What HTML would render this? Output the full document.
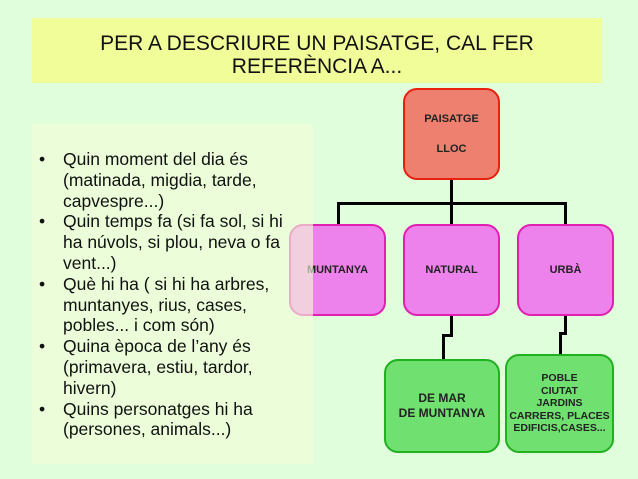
<!DOCTYPE html>
<html><head><meta charset="utf-8"><style>
body{margin:0;width:638px;height:479px;background:#e0fddc;position:relative;overflow:hidden;font-family:"Liberation Sans",sans-serif}
.t{position:absolute;left:32px;top:18px;width:570px;height:65px;background:#f0fd98;text-align:center;font-size:21px;line-height:23px;color:#111;padding-top:14px;box-sizing:border-box}
.b{position:absolute;box-sizing:border-box;border-radius:14px;border:2px solid;display:flex;align-items:center;justify-content:center;text-align:center;font-weight:bold;font-size:11px;color:#222}
.p{background:#ee82ec;border-color:#e020b0}
.g{background:#70e070;border-color:#20b020;font-size:11.5px;line-height:13px}
.panel{position:absolute;left:32px;top:124px;width:281px;height:340px;background:rgba(244,255,214,0.62)}
ul{position:absolute;left:32px;top:149px;margin:0;padding:0 0 0 31px;width:235px;font-size:17.5px;line-height:20.8px;color:#111;list-style:none}
li{position:relative}
li:before{content:"•";position:absolute;left:-24px}
.l{position:absolute;background:#000}
</style></head><body>
<div class="t">PER A DESCRIURE UN PAISATGE, CAL FER<br>REFERÈNCIA A...</div>
<div class="l" style="left:450px;top:180px;width:3px;height:25px"></div>
<div class="l" style="left:337px;top:202px;width:230px;height:3px"></div>
<div class="l" style="left:337px;top:202px;width:3px;height:23px"></div>
<div class="l" style="left:450px;top:202px;width:3px;height:23px"></div>
<div class="l" style="left:564px;top:202px;width:3px;height:23px"></div>
<div class="l" style="left:450px;top:316px;width:3px;height:20px"></div>
<div class="l" style="left:442px;top:334px;width:11px;height:3px"></div>
<div class="l" style="left:442px;top:334px;width:3px;height:26px"></div>
<div class="l" style="left:564px;top:316px;width:3px;height:18px"></div>
<div class="l" style="left:559px;top:332px;width:8px;height:3px"></div>
<div class="l" style="left:559px;top:332px;width:3px;height:23px"></div>
<div class="b" style="left:403px;top:88px;width:97px;height:92px;background:#ee8070;border-color:#e82010;line-height:30px">PAISATGE<br>LLOC</div>
<div class="b p" style="left:289px;top:224px;width:97px;height:92px">MUNTANYA</div>
<div class="b p" style="left:403px;top:224px;width:97px;height:92px">NATURAL</div>
<div class="b p" style="left:517px;top:224px;width:97px;height:92px">URBÀ</div>
<div class="b g" style="left:384px;top:359px;width:116px;height:94px;font-size:12px;line-height:15px">DE MAR<br>DE MUNTANYA</div>
<div class="b g" style="left:505px;top:354px;width:109px;height:99px;font-size:10.5px;line-height:12.5px">POBLE<br>CIUTAT<br>JARDINS<br>CARRERS, PLACES<br>EDIFICIS,CASES...</div>
<div class="panel"></div>
<ul>
<li>Quin moment del dia és (matinada, migdia, tarde, capvespre...)</li>
<li>Quin temps fa (si fa sol, si hi ha núvols, si plou, neva o fa vent...)</li>
<li>Què hi ha ( si hi ha arbres, muntanyes, rius, cases, pobles... i com són)</li>
<li>Quina època de l’any és (primavera, estiu, tardor, hivern)</li>
<li>Quins personatges hi ha (persones, animals...)</li>
</ul>
</body></html>
